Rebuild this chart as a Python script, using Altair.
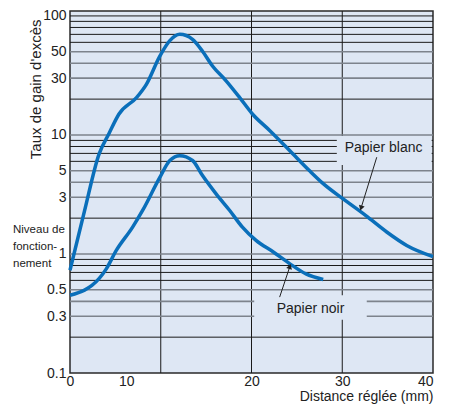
import altair as alt
import pandas as pd

# ---- data ----
blanc_x = [0, 1.6, 3.2, 4.3, 5.4, 7.3, 8.4, 9.9, 11.0, 12.1, 13.5, 14.6, 15.7, 17.2, 18.7,
           20.1, 22.0, 24.2, 26.4, 27.9, 30.1, 32.6, 34.9, 37.1, 40.0]
blanc_y = [0.73, 2.3, 6.9, 10.3, 15.0, 20.5, 26.5, 46, 62, 70, 63.5, 50.5, 38, 28.5, 20.6,
           15.0, 10.9, 7.4, 5.0, 3.9, 2.9, 2.1, 1.53, 1.18, 0.95]
noir_x = [0, 3.2, 4.0, 5.1, 6.9, 8.0, 9.9, 11.0, 12.1, 13.5, 14.6, 16.1, 17.6, 19.0,
          20.5, 22.4, 24.2, 26.0, 27.9]
noir_y = [0.45, 0.62, 0.75, 1.07, 1.68, 2.32, 4.4, 6.1, 6.7, 6.1, 4.56, 3.2, 2.32, 1.68,
          1.30, 1.04, 0.83, 0.68, 0.61]

x_grid = [10, 20, 30]
y_grid_black = [0.2, 0.6, 0.7, 0.8, 0.9, 2, 6, 7, 8, 9, 20, 60, 70, 80, 90, 100]
y_grid_gray = [0.3, 0.4, 0.5, 1, 3, 4, 5, 10, 30, 40, 50]
y_labels = [0.1, 0.3, 0.5, 1, 3, 5, 10, 30, 50, 100]
x_labels = [0, 6.2, 20, 30, 40]

ann_text = ["Papier blanc", "Papier noir"]
ann_x = [34.55, 26.5]
ann_y = [7.8, 0.344]
box_x = [29.4, 20.3]
box_x2 = [39.85, 32.7]
box_y = [5.6, 0.28]
box_y2 = [9.8, 0.45]
arr_x = [33.8, 23.1]
arr_y = [6.5, 0.434]
arr_x2 = [32.1, 24.2]
arr_y2 = [2.47, 0.773]
arr_angle = [197, 18]

BG = "#dee7f4"
BLUE = "#0a6fba"

xs = alt.Scale(domain=[0, 40], nice=False, zero=False)
ys = alt.Scale(type="log", domain=[0.1, 110], nice=False)

x_axis = alt.Axis(
    values=x_labels, grid=False, ticks=False, domain=False,
    labelExpr="datum.value == 6.2 ? '10' : format(datum.value, 'd')",
    labelFlush=False,
    labelAlign={"condition": {"test": "datum.value >= 40", "value": "right"}, "value": "center"},
    labelFontSize=14, labelColor="#222", labelPadding=1,
    title="Distance réglée (mm)", titleAnchor="end", titleFontSize=14,
    titleFontWeight="normal", titleColor="#222", titlePadding=1)
y_axis = alt.Axis(
    values=y_labels, grid=False, ticks=False, domain=False,
    labelExpr="format(datum.value, '~g')",
    labelFontSize=14, labelColor="#222", labelPadding=4,
    title="Taux de gain d'excès", titleFontSize=15,
    titleFontWeight="normal", titleColor="#222",
    titleAngle=-90, titleAlign="right", titleBaseline="middle", titleX=-35, titleY=8)

curves = pd.DataFrame({
    "x": blanc_x + noir_x,
    "y": blanc_y + noir_y,
    "s": ["blanc"] * len(blanc_x) + ["noir"] * len(noir_x),
})
vgrid = pd.DataFrame({"v": x_grid})
hgrid = pd.DataFrame({"v": y_grid_black + y_grid_gray,
                      "c": ["k"] * len(y_grid_black) + ["g"] * len(y_grid_gray)})
ann = pd.DataFrame({"t": ann_text, "x": ann_x, "y": ann_y, "bx": box_x, "bx2": box_x2,
                    "by": box_y, "by2": box_y2, "ax": arr_x, "ay": arr_y, "ax2": arr_x2,
                    "ay2": arr_y2, "ang": arr_angle})

v_layer = alt.Chart(vgrid).mark_rule(color="#1a1a1a", strokeWidth=1).encode(
    x=alt.X("v:Q", scale=xs, axis=x_axis))

h_layer = alt.Chart(hgrid).mark_rule().encode(
    y=alt.Y("v:Q", scale=ys, axis=y_axis),
    color=alt.Color("c:N", scale=alt.Scale(domain=["k", "g"], range=["#1a1a1a", "#7d838c"]), legend=None),
    strokeWidth=alt.StrokeWidth("c:N", scale=alt.Scale(domain=["k", "g"], range=[1, 1.6]), legend=None),
)

boxes = alt.Chart(ann).mark_rect(fill=BG).encode(
    x=alt.X("bx:Q", scale=xs, axis=x_axis), x2="bx2:Q",
    y=alt.Y("by:Q", scale=ys, axis=y_axis), y2="by2:Q")

line_layer = alt.Chart(curves).mark_line(strokeWidth=3.5, interpolate="monotone", color=BLUE).encode(
    x=alt.X("x:Q", scale=xs, axis=x_axis),
    y=alt.Y("y:Q", scale=ys, axis=y_axis),
    detail="s:N",
)

texts = alt.Chart(ann).mark_text(fontSize=14, color="#222").encode(
    x=alt.X("x:Q", scale=xs, axis=x_axis), y=alt.Y("y:Q", scale=ys, axis=y_axis), text="t:N")

arrows = alt.Chart(ann).mark_rule(color="#222", strokeWidth=1).encode(
    x=alt.X("ax:Q", scale=xs, axis=x_axis), x2="ax2:Q",
    y=alt.Y("ay:Q", scale=ys, axis=y_axis), y2="ay2:Q")

heads = alt.Chart(ann).mark_point(shape="triangle", filled=True, color="#222", size=35, opacity=1).encode(
    x=alt.X("ax2:Q", scale=xs, axis=x_axis), y=alt.Y("ay2:Q", scale=ys, axis=y_axis),
    angle=alt.Angle("ang:Q", scale=None))

niveau = alt.Chart(pd.DataFrame({"t": ["Niveau de\nfonction-\nnement"]})).mark_text(
    align="left", baseline="middle", fontSize=11.5, lineHeight=17, color="#222",
    lineBreak="\n").encode(
    x=alt.value(-57), y=alt.value(219), text="t:N")

chart = alt.layer(v_layer, h_layer, boxes, line_layer, texts, arrows, heads, niveau).properties(
    width=363, height=362,
    autosize=alt.AutoSizeParams(type="none"),
    padding={"left": 62, "top": 3, "right": 12, "bottom": 33},
).configure(font="Liberation Sans").configure_view(
    fill=BG, stroke="#2a2a2a", strokeWidth=1.5)

chart.save("out.html", embed_options={"renderer": "svg", "actions": False})
